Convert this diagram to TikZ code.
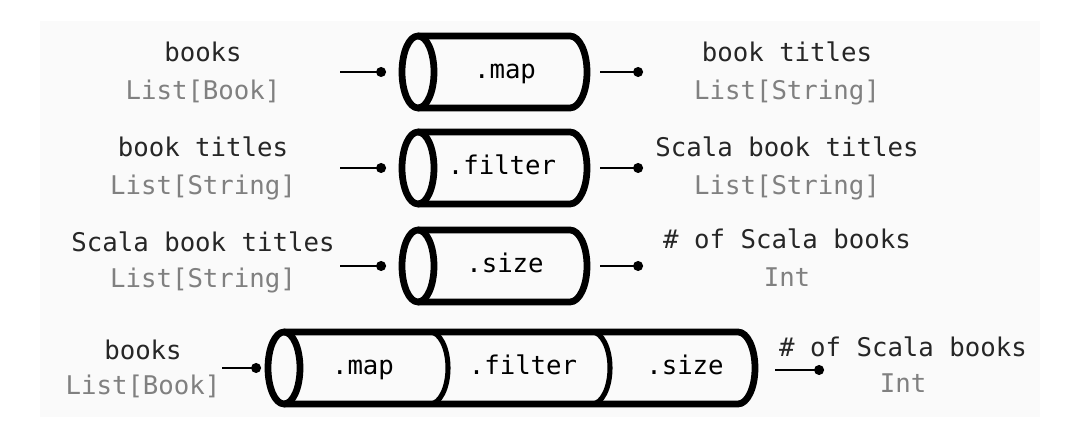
\documentclass[tikz,border=0pt]{standalone}
\usepackage{fontspec}
\setmonofont{DejaVu Sans Mono}
\usetikzlibrary{arrows.meta}
\definecolor{ink}{HTML}{262626}
\definecolor{typegray}{HTML}{808080}
\definecolor{panel}{HTML}{FAFAFA}
\begin{document}
\begin{tikzpicture}[x=0.025cm,y=0.025cm,
    lbl/.style={anchor=base,text=ink,font=\ttfamily\fontsize{18.3}{20}\selectfont},
    typ/.style={anchor=base,text=typegray,font=\ttfamily\fontsize{18.3}{20}\selectfont},
    op/.style={text=black,text height=13pt,text depth=4pt,font=\ttfamily\fontsize{18.3}{20}\selectfont},
    pipe/.style={line width=4.8pt,line join=round},
    sep/.style={line width=3.6pt},
    flow/.style={line width=2pt,-{Circle[length=7pt]}}]
    \useasboundingbox (0,0) rectangle (1087,431);
    \fill[white] (0,0) rectangle (1087,431);
    \fill[panel] (40,14) rectangle (1040,410);

    % Tubi singoli
    \draw[pipe] (418,395) -- (570,395) arc[start angle=90,end angle=-90,x radius=17,y radius=36] -- (418,323);
    \draw[pipe] (418,359) ellipse[x radius=16,y radius=36];
    \draw[pipe] (418,299) -- (570,299) arc[start angle=90,end angle=-90,x radius=17,y radius=36] -- (418,227);
    \draw[pipe] (418,263) ellipse[x radius=16,y radius=36];
    \draw[pipe] (418,201) -- (570,201) arc[start angle=90,end angle=-90,x radius=17,y radius=36] -- (418,129);
    \draw[pipe] (418,165) ellipse[x radius=16,y radius=36];
    \node[op] (map1) at (505,359) {.map};
    \node[op] (filter2) at (502,263) {.filter};
    \node[op] (size3) at (505,165) {.size};

    % Tubo unico
    \draw[pipe] (284,99) -- (738,99) arc[start angle=90,end angle=-90,x radius=17,y radius=36] -- (284,27);
    \draw[pipe] (284,63) ellipse[x radius=16,y radius=36];
    \draw[sep] (430,99) arc[start angle=90,end angle=-90,x radius=18,y radius=36];
    \draw[sep] (592,99) arc[start angle=90,end angle=-90,x radius=18,y radius=36];
    \node[op] (map4) at (363,63) {.map};
    \node[op] (filter4) at (523,63) {.filter};
    \node[op] (size4) at (685,63) {.size};

    % Etichette
    \node[lbl] (in1) at (203,369) {books};
    \node[typ] (in1t) at (203,331) {List[Book]};
    \node[lbl] (out1) at (787,369) {book titles};
    \node[typ] (out1t) at (787,331) {List[String]};
    \node[lbl] (in2) at (203,274) {book titles};
    \node[typ] (in2t) at (203,236) {List[String]};
    \node[lbl] (out2) at (787,274) {Scala book titles};
    \node[typ] (out2t) at (787,236) {List[String]};
    \node[lbl] (in3) at (203,179) {Scala book titles};
    \node[typ] (in3t) at (203,143) {List[String]};
    \node[lbl] (out3) at (787,182) {\# of Scala books};
    \node[typ] (out3t) at (787,144) {Int};
    \node[lbl] (in4) at (143,71) {books};
    \node[typ] (in4t) at (143,36) {List[Book]};
    \node[lbl] (out4) at (903,74) {\# of Scala books};
    \node[typ] (out4t) at (903,38) {Int};

    % Frecce
    \coordinate (a1) at (340,359); \coordinate (b1) at (386,359);
    \coordinate (c1) at (600,359); \coordinate (d1) at (643,359);
    \coordinate (a2) at (340,263); \coordinate (b2) at (386,263);
    \coordinate (c2) at (600,263); \coordinate (d2) at (643,263);
    \coordinate (a3) at (340,165); \coordinate (b3) at (386,165);
    \coordinate (c3) at (600,165); \coordinate (d3) at (643,165);
    \coordinate (a4) at (222,63); \coordinate (b4) at (261,63);
    \coordinate (c4) at (775,61); \coordinate (d4) at (824,61);
    \draw[flow] (a1) -- (b1);
    \draw[flow] (c1) -- (d1);
    \draw[flow] (a2) -- (b2);
    \draw[flow] (c2) -- (d2);
    \draw[flow] (a3) -- (b3);
    \draw[flow] (c3) -- (d3);
    \draw[flow] (a4) -- (b4);
    \draw[flow] (c4) -- (d4);
\end{tikzpicture}
\end{document}
